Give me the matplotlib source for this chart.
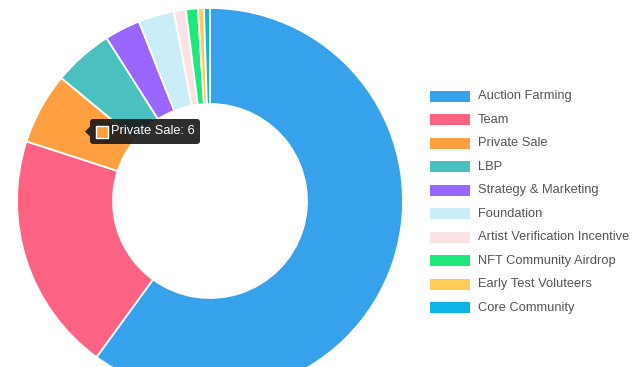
import matplotlib
matplotlib.use("Agg")
import matplotlib.pyplot as plt
from matplotlib.patches import Rectangle, FancyBboxPatch, Polygon

categories = ["Auction Farming", "Team", "Private Sale", "LBP", "Strategy & Marketing",
              "Foundation", "Artist Verification Incentive", "NFT Community Airdrop",
              "Early Test Voluteers", "Core Community"]
values = [60, 20, 6, 5, 3, 3, 1, 1, 0.5, 0.5]
colors = ["#36A2EB", "#FF6384", "#FF9F40", "#4BC0C0", "#9966FF",
          "#C9EEF8", "#FDE2E4", "#1EE87A", "#FFCD56", "#0EB4E6"]
tooltip_index = 2

W, H = 640, 367
fig = plt.figure(figsize=(W / 100, H / 100), dpi=100)
ax = fig.add_axes([0, 0, 1, 1])
ax.set_xlim(0, W)
ax.set_ylim(0, H)
ax.set_aspect("equal")
ax.axis("off")

cx, cy = 210, H - 201
R = 193
ax.pie(values, colors=colors, startangle=90, counterclock=False,
       center=(cx, cy), radius=R, frame=True,
       wedgeprops=dict(width=R - 97, edgecolor="white", linewidth=1.3))
ax.set_xlim(0, W)
ax.set_ylim(0, H)
ax.axis("off")

font = "Liberation Sans"
# legend
lx, ly0, step = 430, 96, 23.55
for i, (lab, c) in enumerate(zip(categories, colors)):
    y = H - (ly0 + i * step)
    ax.add_patch(Rectangle((lx, y - 5.5), 40, 11, facecolor=c, edgecolor="none"))
    ax.text(lx + 48, y, lab, fontsize=9.3, color="#555555", va="center", ha="left",
            family=font)

# tooltip
tx0, tx1, ty0, ty1 = 90, 200, H - 144, H - 119
ax.add_patch(FancyBboxPatch((tx0 + 3, ty0 + 3), tx1 - tx0 - 6, ty1 - ty0 - 6,
                            boxstyle="round,pad=3", facecolor="#1c1c1c",
                            edgecolor="none", alpha=0.92))
ym = (ty0 + ty1) / 2
ax.add_patch(Polygon([(tx0, ym + 5), (tx0 - 5, ym), (tx0, ym - 5)], closed=True,
                     facecolor="#1c1c1c", edgecolor="none", alpha=0.92))
ax.add_patch(Rectangle((96, ym - 6), 12, 12, facecolor=colors[tooltip_index],
                       edgecolor="white", linewidth=1))
ax.text(111, ym, f"{categories[tooltip_index]}: {values[tooltip_index]}",
        fontsize=9.3, color="white", va="center", ha="left", family=font)

fig.savefig("out.png", dpi=100)
